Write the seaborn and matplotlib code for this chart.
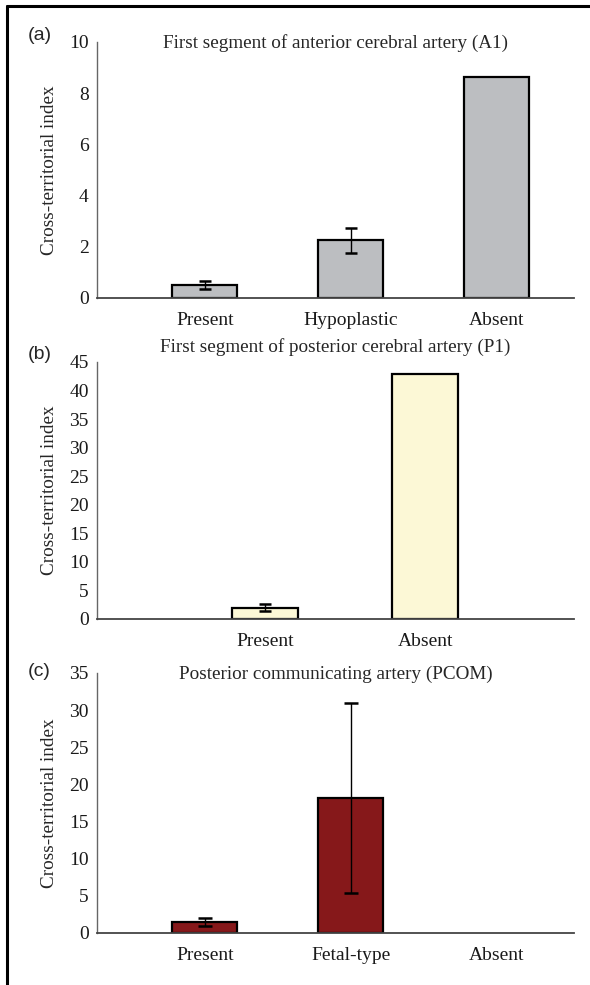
import matplotlib
matplotlib.use("Agg")
import matplotlib.pyplot as plt
import seaborn as sns
from matplotlib.lines import Line2D

# panel (a): A1
a1_cats = ["Present", "Hypoplastic", "Absent"]
a1_vals = [0.50, 2.25, 8.62]
a1_err = [0.16, 0.50, 0.0]

# panel (b): P1
p1_cats = ["Present", "Absent"]
p1_vals = [2.0, 42.9]
p1_err = [0.65, 0.0]

# panel (c): PCOM (no bar for Absent)
pcom_cats = ["Present", "Fetal-type", "Absent"]
pcom_vals = [1.43, 18.2]
pcom_err = [0.53, 12.8]

sns.set_theme(style="white")
plt.rcParams["font.family"] = ["Liberation Serif", "DejaVu Serif"]

fig = plt.figure(figsize=(5.9, 9.85), dpi=100)

panels = [
    dict(tag="(a)", title="First segment of anterior cerebral artery (A1)",
         cats=a1_cats, vals=a1_vals, err=a1_err, color="#bcbec1",
         ylim=(0, 10), step=2, width=0.445, xlim=(-0.74, 2.53),
         rect=[0.1644, 0.6975, 0.8085, 0.2599], cap=4, tpad=-1, tagdy=6),
    dict(tag="(b)", title="First segment of posterior cerebral artery (P1)",
         cats=p1_cats, vals=p1_vals, err=p1_err, color="#fcf8d6",
         ylim=(0, 45), step=5, width=0.41, xlim=(-1.05, 1.93),
         rect=[0.1644, 0.3716, 0.8085, 0.2609], cap=4, tpad=11, tagdy=7),
    dict(tag="(c)", title="Posterior communicating artery (PCOM)",
         cats=pcom_cats, vals=pcom_vals, err=pcom_err, color="#86181a",
         ylim=(0, 35), step=5, width=0.445, xlim=(-0.74, 2.53),
         rect=[0.1644, 0.0528, 0.8085, 0.2640], cap=5, tpad=-1, tagdy=1),
]

for p in panels:
    ax = fig.add_axes(p["rect"])
    n = len(p["vals"])
    sns.barplot(x=p["cats"][:n], y=p["vals"], order=p["cats"], ax=ax,
                color=p["color"], saturation=1, width=p["width"],
                edgecolor="black", linewidth=1.6)
    for i, (v, e) in enumerate(zip(p["vals"], p["err"])):
        if e > 0:
            ax.errorbar(i, v, yerr=e, fmt="none", ecolor="black",
                        elinewidth=1.0, capsize=p["cap"], capthick=1.8)
    ax.set_xlim(*p["xlim"])
    ax.set_ylim(*p["ylim"])
    ax.set_yticks(range(p["ylim"][0], p["ylim"][1] + 1, p["step"]))
    ax.tick_params(axis="both", length=0, labelsize=14, colors="#1a1a1a")
    ax.tick_params(axis="y", pad=6)
    ax.tick_params(axis="x", pad=10)
    ax.set_xlabel("")
    ax.set_ylabel("Cross-territorial index", fontsize=13.8, labelpad=8)
    for s in ["top", "right"]:
        ax.spines[s].set_visible(False)
    ax.spines["left"].set_color("#666666")
    ax.spines["left"].set_linewidth(1.0)
    ax.spines["bottom"].set_color("#444444")
    ax.spines["bottom"].set_linewidth(1.3)
    ax.set_title(p["title"], fontsize=13.8, y=1.0, pad=p["tpad"], va="center")
    h = p["rect"][3] * 985
    ax.text(-0.1447, 1.0 + p["tagdy"] / h, p["tag"], transform=ax.transAxes,
            fontsize=14, family=["Liberation Sans", "DejaVu Sans"],
            ha="left", va="center")

# frame lines on the left and top edges
fig.add_artist(Line2D([0.012, 0.012], [0, 0.994], color="black", lw=2.2))
fig.add_artist(Line2D([0.012, 1.0], [0.994, 0.994], color="black", lw=2.2))

fig.savefig("out.png", dpi=100)
